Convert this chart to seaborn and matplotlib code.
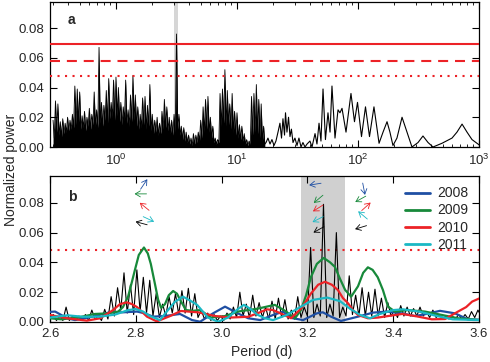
import numpy as np
import pandas as pd
import matplotlib
matplotlib.use('Agg')
import matplotlib.pyplot as plt
import seaborn as sns

# ---------------- panel a: periodogram of the full data set ----------------
# dense short-period part, sampled every 0.01 in log10(period)
log_period_dense = np.linspace(-0.52, 1.23, 176)
power_dense = [
    0.018, 0.006, 0.031, 0.010, 0.029, 0.008, 0.017, 0.007, 0.019, 0.009,
    0.016, 0.010, 0.020, 0.011, 0.018, 0.012, 0.022, 0.013, 0.041, 0.015,
    0.039, 0.016, 0.037, 0.012, 0.021, 0.013, 0.024, 0.011, 0.020, 0.014,
    0.026, 0.012, 0.022, 0.015, 0.037, 0.014, 0.025, 0.013, 0.067, 0.016,
    0.030, 0.014, 0.028, 0.018, 0.038, 0.016, 0.046, 0.019, 0.030, 0.020,
    0.045, 0.018, 0.047, 0.021, 0.040, 0.017, 0.030, 0.015, 0.027, 0.018,
    0.045, 0.016, 0.025, 0.014, 0.035, 0.017, 0.048, 0.018, 0.035, 0.014,
    0.027, 0.012, 0.022, 0.013, 0.033, 0.015, 0.034, 0.012, 0.028, 0.014,
    0.042, 0.011, 0.022, 0.009, 0.018, 0.010, 0.020, 0.008, 0.016, 0.009,
    0.024, 0.012, 0.032, 0.013, 0.027, 0.011, 0.020, 0.009, 0.018, 0.008,
    0.022, 0.010, 0.076, 0.012, 0.022, 0.008, 0.014, 0.005, 0.013, 0.004,
    0.010, 0.003, 0.008, 0.002, 0.006, 0.001, 0.009, 0.002, 0.008, 0.003,
    0.010, 0.004, 0.018, 0.006, 0.027, 0.010, 0.032, 0.012, 0.034, 0.010,
    0.020, 0.006, 0.014, 0.003, 0.006, 0.002, 0.005, 0.003, 0.036, 0.014,
    0.039, 0.016, 0.052, 0.014, 0.038, 0.015, 0.029, 0.012, 0.036, 0.010,
    0.024, 0.008, 0.023, 0.006, 0.015, 0.005, 0.014, 0.004, 0.009, 0.002,
    0.005, 0.001, 0.004, 0.002, 0.034, 0.008, 0.036, 0.010, 0.042, 0.009,
    0.032, 0.006, 0.029, 0.004, 0.014, 0.002,
]
# long-period part (resolved oscillations)
log_period_sparse = [
    1.240, 1.256, 1.273, 1.289, 1.306, 1.322, 1.339, 1.355, 1.368, 1.380,
    1.393, 1.401, 1.413, 1.426, 1.438, 1.450, 1.463, 1.479, 1.496, 1.512,
    1.529, 1.545, 1.562, 1.579, 1.603, 1.620, 1.645, 1.661, 1.678, 1.694,
    1.711, 1.731, 1.752, 1.769, 1.785, 1.810, 1.835, 1.851, 1.868, 1.901,
    1.942, 1.971, 1.996, 2.029, 2.062, 2.095, 2.132, 2.174, 2.207, 2.240,
    2.264, 2.289, 2.322, 2.364, 2.405, 2.446, 2.496, 2.537, 2.579, 2.620,
    2.694, 2.777, 2.818, 2.860, 2.901, 2.942, 3.008,
]
power_sparse = [
    0.003, 0.006, 0.002, 0.005, 0.001, 0.004, 0.010, 0.016, 0.006, 0.019,
    0.008, 0.023, 0.010, 0.020, 0.007, 0.012, 0.003, 0.006, 0.001, 0.006,
    0.000, 0.003, 0.000, 0.002, 0.004, 0.000, 0.009, 0.002, 0.016, 0.004,
    0.039, 0.005, 0.023, 0.010, 0.041, 0.006, 0.025, 0.023, 0.026, 0.010,
    0.036, 0.017, 0.030, 0.007, 0.027, 0.007, 0.027, 0.0025, 0.010, 0.017,
    0.010, 0.001, 0.006, 0.020, 0.010, 0.000, 0.003, 0.0074, 0.003, 0.000,
    0.0025, 0.006, 0.010, 0.0154, 0.010, 0.005, 0.001,
]
thresholds = [0.069, 0.058, 0.048]   # solid, dashed, dotted

# ---------------- panel b: zoom on 2.6-3.6 d ----------------
period_b = np.linspace(2.6, 3.605, 135)
power_b_all = [
    0.002, 0.005, 0.001, 0.004, 0.001, 0.010, 0.001, 0.004, 0.001, 0.004,
    0.001, 0.005, 0.001, 0.008, 0.002, 0.004, 0.001, 0.0085, 0.002, 0.017,
    0.004, 0.023, 0.008, 0.033, 0.006, 0.025, 0.005, 0.035, 0.007, 0.030,
    0.006, 0.028, 0.004, 0.019, 0.003, 0.012, 0.004, 0.017, 0.006, 0.019,
    0.005, 0.021, 0.006, 0.0226, 0.004, 0.019, 0.003, 0.008, 0.002, 0.006,
    0.001, 0.005, 0.001, 0.004, 0.001, 0.006, 0.002, 0.010, 0.003, 0.020,
    0.004, 0.012, 0.003, 0.018, 0.004, 0.013, 0.003, 0.010, 0.002, 0.014,
    0.002, 0.016, 0.003, 0.015, 0.002, 0.008, 0.002, 0.017, 0.003, 0.010,
    0.004, 0.050, 0.003, 0.012, 0.004, 0.079, 0.003, 0.012, 0.004, 0.060,
    0.003, 0.010, 0.004, 0.031, 0.005, 0.018, 0.004, 0.023, 0.004, 0.020,
    0.004, 0.022, 0.004, 0.016, 0.003, 0.013, 0.004, 0.008, 0.003, 0.011,
    0.004, 0.010, 0.004, 0.009, 0.004, 0.010, 0.004, 0.007, 0.003, 0.008,
    0.003, 0.005, 0.002, 0.004, 0.002, 0.004, 0.002, 0.005, 0.002, 0.005,
    0.002, 0.007, 0.003, 0.008, 0.004,
]

years = ['2008', '2009', '2010', '2011']
period_2008 = [2.600, 2.612, 2.640, 2.658, 2.700, 2.740, 2.770, 2.803, 2.821, 2.840,
               2.868, 2.903, 2.931, 2.950, 2.980, 3.008, 3.038, 3.062, 3.090, 3.120,
               3.143, 3.166, 3.190, 3.222, 3.236, 3.255, 3.278, 3.318, 3.353, 3.385,
               3.420, 3.451, 3.479, 3.509, 3.544, 3.574, 3.602]
power_2008 = [0.0068, 0.007, 0.0025, 0.0013, 0.0036, 0.0066, 0.0065, 0.007, 0.0058, 0.0036,
              0.004, 0.0054, 0.0013, 0.0002, 0.0058, 0.0103, 0.0058, 0.0025, 0.0013, 0.0047,
              0.0069, 0.0025, 0.0013, 0.0058, 0.0065, 0.0036, 0.0007, 0.0036, 0.0063, 0.0070,
              0.0058, 0.004, 0.0055, 0.0075, 0.0058, 0.0018, 0.0015]
period_2009 = [2.600, 2.626, 2.665, 2.705, 2.735, 2.759, 2.770, 2.782, 2.791, 2.798,
               2.807, 2.819, 2.828, 2.835, 2.845, 2.852, 2.859, 2.868, 2.877, 2.887,
               2.896, 2.905, 2.917, 2.933, 2.950, 2.975, 3.008, 3.038, 3.062, 3.085,
               3.108, 3.124, 3.148, 3.171, 3.185, 3.197, 3.208, 3.222, 3.238, 3.253,
               3.264, 3.276, 3.288, 3.302, 3.318, 3.330, 3.341, 3.352, 3.364, 3.376,
               3.388, 3.404, 3.434, 3.474, 3.514, 3.551, 3.602]
power_2009 = [0.0025, 0.0018, 0.003, 0.0054, 0.0058, 0.007, 0.010, 0.017, 0.027, 0.035,
              0.045, 0.050, 0.046, 0.039, 0.025, 0.015, 0.0095, 0.012, 0.018, 0.0208,
              0.019, 0.014, 0.008, 0.0075, 0.008, 0.003, 0.004, 0.007, 0.008, 0.009,
              0.0105, 0.0115, 0.0075, 0.0025, 0.008, 0.018, 0.030, 0.039, 0.043, 0.040,
              0.037, 0.029, 0.0215, 0.017, 0.024, 0.033, 0.0367, 0.035, 0.030, 0.0215,
              0.0103, 0.007, 0.008, 0.007, 0.0047, 0.0025, 0.0013]
period_2010 = [2.600, 2.640, 2.686, 2.717, 2.747, 2.763, 2.779, 2.791, 2.803, 2.826,
               2.849, 2.880, 2.905, 2.945, 2.985, 3.022, 3.062, 3.085, 3.106, 3.120,
               3.136, 3.162, 3.185, 3.197, 3.208, 3.225, 3.241, 3.257, 3.271, 3.283,
               3.295, 3.306, 3.318, 3.341, 3.365, 3.388, 3.421, 3.451, 3.490, 3.521,
               3.551, 3.570, 3.584, 3.602]
power_2010 = [0.0047, 0.0025, 0.0009, 0.0025, 0.008, 0.012, 0.0132, 0.012, 0.010, 0.0036,
              0.0004, 0.004, 0.0074, 0.0065, 0.004, 0.003, 0.0035, 0.006, 0.0085, 0.008,
              0.006, 0.0025, 0.009, 0.014, 0.019, 0.025, 0.027, 0.025, 0.0215, 0.016,
              0.0125, 0.008, 0.0047, 0.0025, 0.003, 0.004, 0.0054, 0.004, 0.0018, 0.002,
              0.007, 0.010, 0.0137, 0.016]
period_2011 = [2.600, 2.640, 2.677, 2.717, 2.752, 2.782, 2.800, 2.817, 2.833, 2.856,
               2.875, 2.891, 2.910, 2.926, 2.943, 2.968, 2.992, 3.015, 3.038, 3.052,
               3.066, 3.083, 3.101, 3.120, 3.152, 3.183, 3.213, 3.246, 3.276, 3.299,
               3.323, 3.346, 3.369, 3.400, 3.423, 3.462, 3.502, 3.539, 3.602]
power_2011 = [0.003, 0.0045, 0.0035, 0.0036, 0.005, 0.008, 0.0087, 0.007, 0.004, 0.0013,
              0.008, 0.0135, 0.017, 0.0145, 0.0115, 0.003, 0.0002, 0.003, 0.0087, 0.0115,
              0.009, 0.005, 0.0025, 0.0013, 0.0047, 0.010, 0.0148, 0.0164, 0.014, 0.009,
              0.0047, 0.0025, 0.0054, 0.008, 0.0085, 0.0069, 0.004, 0.0018, 0.0013]

# phase arrows (blue, green, red, cyan, black) at three periods: centre + direction in degrees
arrow_period = [[2.819, 2.811, 2.820, 2.830, 2.813],
                [3.218, 3.2255, 3.2247, 3.2243, 3.2263],
                [3.3316, 3.3238, 3.337, 3.329, 3.3245]]
arrow_power = [[0.0925, 0.086, 0.0775, 0.069, 0.0663],
               [0.0925, 0.0825, 0.0764, 0.0689, 0.062],
               [0.0893, 0.0825, 0.0775, 0.0717, 0.0635]]
arrow_angle = [[56, 180, 141, -25, 165],
               [189, 220, 212, 207, 209],
               [-79, 209, 42, 140, 197]]

blue, green, red, cyan = '#1f4fa3', '#17893a', '#ec2227', '#1ab8c4'
year_colors = dict(zip(years, [blue, green, red, cyan]))

sns.set_theme(style='ticks')
plt.rcParams['font.family'] = ['Liberation Sans', 'DejaVu Sans']
plt.rcParams['axes.linewidth'] = 0.9

fig = plt.figure(figsize=(4.9, 3.62), dpi=100)
ax_a = fig.add_axes([50 / 490, 1 - 147 / 362, 429 / 490, 145 / 362])
ax_b = fig.add_axes([50 / 490, 1 - 322 / 362, 429 / 490, 146 / 362])

# ---- panel a ----
period_dense = 10 ** log_period_dense
period_sparse = 10 ** np.array(log_period_sparse)
ax_a.axvspan(3.03, 3.28, color='#d6d6d6', lw=0, zorder=0)
ax_a.fill_between(period_dense, power_dense, color='black', lw=0, zorder=1)
sns.lineplot(x=period_dense, y=power_dense, ax=ax_a, color='black', lw=0.6,
             estimator=None, sort=False, zorder=2)
sns.lineplot(x=np.r_[period_dense[-1], period_sparse], y=[power_dense[-1]] + power_sparse,
             ax=ax_a, color='black', lw=0.8, estimator=None, sort=False, zorder=2)
ax_a.axhline(thresholds[0], color=red, lw=1.5, zorder=3)
ax_a.axhline(thresholds[1], color=red, lw=1.5, dashes=(4.8, 3.3), zorder=3)
ax_a.axhline(thresholds[2], color=red, lw=1.5, dashes=(1, 2.6), zorder=3)
ax_a.set_xscale('log')
ax_a.set_xlim(0.285, 1000)
ax_a.set_ylim(0, 0.0975)
ax_a.set_yticks([0, 0.02, 0.04, 0.06, 0.08])
ax_a.set_yticklabels([f'{v:.2f}' for v in [0, 0.02, 0.04, 0.06, 0.08]])
ax_a.set_xlabel('')
ax_a.set_ylabel('')
ax_a.text(0.051, 0.876, 'a', transform=ax_a.transAxes, fontsize=10,
          fontweight='bold', ha='center', va='center')

# ---- panel b ----
df_years = pd.concat([
    pd.DataFrame({'period': period_2008, 'power': power_2008, 'year': '2008'}),
    pd.DataFrame({'period': period_2009, 'power': power_2009, 'year': '2009'}),
    pd.DataFrame({'period': period_2010, 'power': power_2010, 'year': '2010'}),
    pd.DataFrame({'period': period_2011, 'power': power_2011, 'year': '2011'}),
])
ax_b.axvspan(3.185, 3.287, color='#d0d0d0', lw=0, zorder=0)
ax_b.axhline(0.048, color=red, lw=1.5, dashes=(1, 2.6), zorder=1)
sns.lineplot(x=period_b, y=power_b_all, ax=ax_b, color='black', lw=0.8,
             estimator=None, sort=False, zorder=2)
sns.lineplot(data=df_years, x='period', y='power', hue='year', palette=year_colors,
             ax=ax_b, lw=1.6, estimator=None, sort=False, zorder=3)
ax_b.set_xlim(2.6, 3.6)
ax_b.set_ylim(0, 0.098)
ax_b.set_xticks([2.6, 2.8, 3.0, 3.2, 3.4, 3.6])
ax_b.set_xticklabels([f'{v:.1f}' for v in [2.6, 2.8, 3.0, 3.2, 3.4, 3.6]])
ax_b.set_yticks([0, 0.02, 0.04, 0.06, 0.08])
ax_b.set_yticklabels([f'{v:.2f}' for v in [0, 0.02, 0.04, 0.06, 0.08]])
ax_b.set_xlabel('')
ax_b.set_ylabel('')
ax_b.text(0.051, 0.856, 'b', transform=ax_b.transAxes, fontsize=10,
          fontweight='bold', ha='center', va='center')
handles, labels = ax_b.get_legend_handles_labels()
for h in handles:
    h.set_linewidth(2.0)
ax_b.legend(handles, labels, loc='upper right', bbox_to_anchor=(1.0, 1.0),
            frameon=False, fontsize=10, handlelength=1.8, handletextpad=0.55,
            labelspacing=0.22, borderaxespad=0.35)

for ax in (ax_a, ax_b):
    ax.tick_params(which='major', direction='in', top=True, right=True,
                   length=5, width=0.8, labelsize=9.5, pad=4, color='black')
    ax.tick_params(which='minor', direction='in', top=True, right=True,
                   length=2.5, width=0.6, color='black')
    for s in ax.spines.values():
        s.set_color('black')
ax_b.minorticks_off()

# phase arrows drawn in pixel space around each centre
r = 6.0
arrow_cols = [blue, green, red, cyan, 'black']
for g in range(3):
    for k in range(5):
        cx, cy = ax_b.transData.transform((arrow_period[g][k], arrow_power[g][k]))
        a = np.deg2rad(arrow_angle[g][k])
        ax_b.annotate('', xy=(cx + r * np.cos(a), cy + r * np.sin(a)),
                      xytext=(cx - r * np.cos(a), cy - r * np.sin(a)),
                      xycoords='figure pixels', textcoords='figure pixels',
                      arrowprops=dict(arrowstyle='->,head_length=0.3,head_width=0.18',
                                      color=arrow_cols[k], lw=0.6,
                                      shrinkA=0, shrinkB=0))

fig.text(11 / 490, 1 - 170 / 362, 'Normalized power', rotation=90,
         ha='center', va='center', fontsize=10)
fig.text(262 / 490, 1 - 352 / 362, 'Period (d)', ha='center', va='center', fontsize=10)

fig.savefig('out.png', dpi=100)
